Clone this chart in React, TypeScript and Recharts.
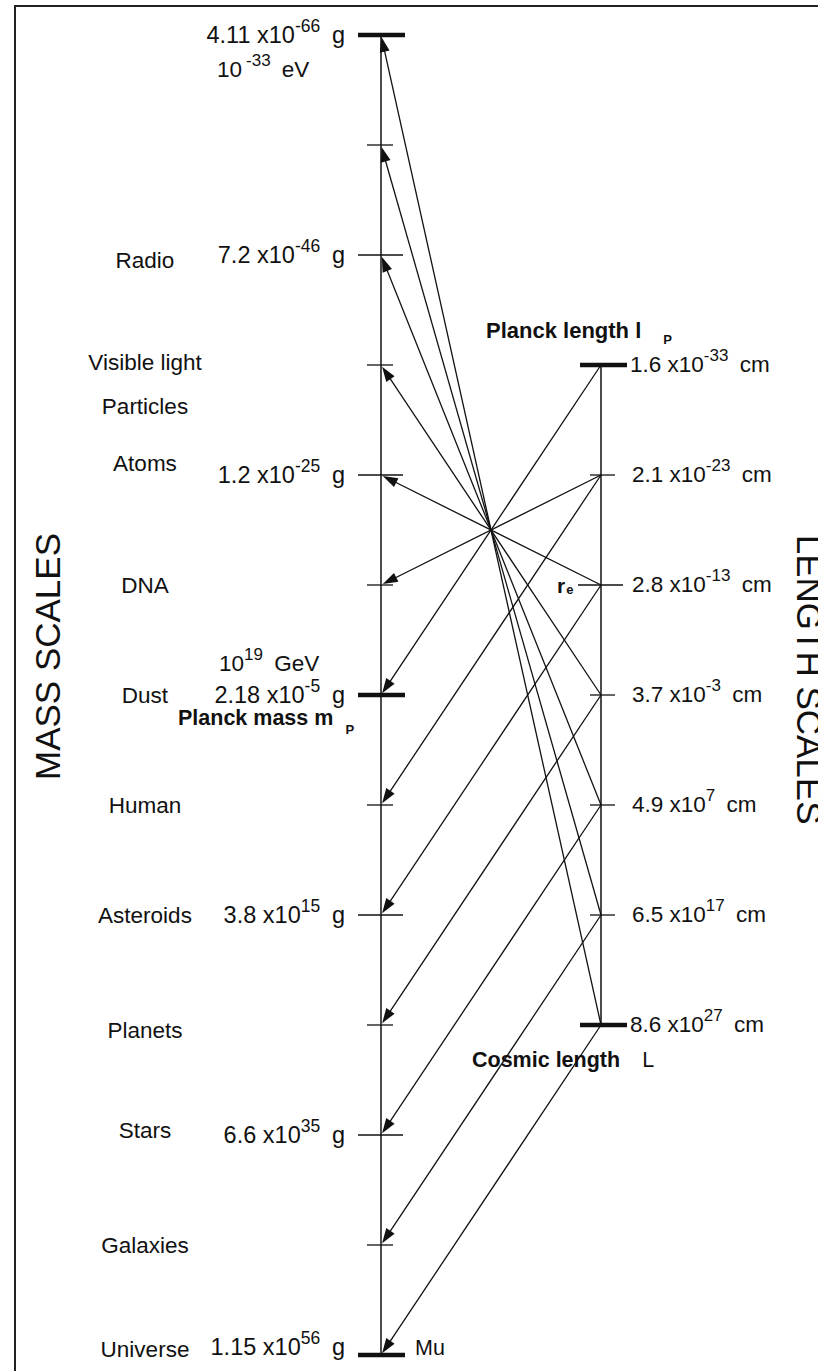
import React from 'react';
import { ScatterChart, Scatter, XAxis, YAxis, ReferenceLine } from 'recharts';

// Mass scale: 13 rows, from the lightest (top) to the heaviest (bottom)
const massMantissa = ['4.11', '', '7.2', '', '1.2', '', '2.18', '', '3.8', '', '6.6', '', '1.15'];
const massExponent = ['-66', '', '-46', '', '-25', '', '-5', '', '15', '', '35', '', '56'];
const massMajorRows = [0, 6, 12];

// Objects written next to the mass scale (row on the mass scale)
const massObjects = ['Radio', 'Visible light', 'Particles', 'Atoms', 'DNA', 'Dust', 'Human', 'Asteroids', 'Planets', 'Stars', 'Galaxies', 'Universe'];
const massObjectRows = [2.05, 2.97, 3.37, 3.89, 5, 6, 7, 8, 9.05, 9.96, 11, 11.95];

// Length scale: 7 rows, Planck length to cosmic length
const lengthRows = [3, 4, 5, 6, 7, 8, 9];
const lengthMantissa = ['1.6', '2.1', '2.8', '3.7', '4.9', '6.5', '8.6'];
const lengthExponent = ['-33', '-23', '-13', '-3', '7', '17', '27'];
const lengthMajorRows = [3, 9];

// arrows: [length row, mass row]
const links = [
  [9, 0], [8, 1], [7, 2], [6, 3], [5, 4], [4, 5], [3, 6],
  [4, 7], [5, 8], [6, 9], [7, 10], [8, 11], [9, 12],
];

const W = 818;
const H = 1371;
const MASS_PX = 381;
const LENGTH_PX = 601;
const TOP_PX = 35;
const ROW_PX = 110;
const UNIT = LENGTH_PX - MASS_PX;
const X_DOMAIN = [-MASS_PX / UNIT, (W - MASS_PX) / UNIT];
const Y_DOMAIN = [-TOP_PX / ROW_PX, (H - TOP_PX) / ROW_PX];
const MASS_X = 0;
const LENGTH_X = 1;
const OBJECT_X = (145 - MASS_PX) / UNIT;

const INK = '#111';
const FONT = '"Liberation Sans", Arial, Helvetica, sans-serif';
const FS = 22.5;
const SUP = 17;

const massData = massMantissa.map((m, i) => ({
  x: MASS_X, y: i, row: i, mantissa: m, exponent: massExponent[i], major: massMajorRows.includes(i),
}));
const lengthData = lengthRows.map((r, i) => ({
  x: LENGTH_X, y: r, row: r, mantissa: lengthMantissa[i], exponent: lengthExponent[i], major: lengthMajorRows.includes(r),
}));
const objectData = massObjects.map((name, i) => ({ x: OBJECT_X, y: massObjectRows[i], name }));
const titleData = [
  { x: MASS_X, y: 5.65, text: 'MASS SCALES', side: 'left' },
  { x: LENGTH_X, y: 5.86, text: 'LENGTH SCALES', side: 'right' },
];

const txt = { fontFamily: FONT, fill: INK };

const MassTick = (props: any) => {
  const { cx, cy, payload } = props;
  const { row, mantissa, exponent, major } = payload;
  const labelled = mantissa !== '';
  const [l, r, sw] = major ? [23, 24, 4.5] : labelled ? [23, 22, 1.3] : [14, 12, 1.3];
  const base = row === 12 ? cy : cy + 8;
  return (
    <g>
      <line x1={cx - l} x2={cx + r} y1={cy} y2={cy} stroke={INK} strokeWidth={sw} />
      {labelled && (
        <text x={cx - 36} y={base} textAnchor="end" fontSize={23.5} {...txt}>
          {mantissa + ' x10'}
          <tspan dy={-11} fontSize={17.5}>{exponent}</tspan>
          <tspan dy={11}>{'\u2002g'}</tspan>
        </text>
      )}
      {row === 0 && (
        <text x={cx - 164} y={cy + 42} fontSize={FS} {...txt}>
          {'10'}
          <tspan dx={4} dy={-11} fontSize={SUP}>-33</tspan>
          <tspan dy={11}>{'\u2002eV'}</tspan>
        </text>
      )}
      {row === 6 && (
        <>
          <text x={cx - 162} y={cy - 24} fontSize={FS} {...txt}>
            {'10'}
            <tspan dy={-11} fontSize={SUP}>19</tspan>
            <tspan dy={11}>{'\u2002GeV'}</tspan>
          </text>
          <text x={cx - 203} y={cy + 30} fontSize={FS - 1} fontWeight="bold" {...txt}>
            Planck mass m
            <tspan dx={12} dy={9} fontSize={13}>P</tspan>
          </text>
        </>
      )}
      {row === 12 && (
        <text x={cx + 34} y={cy} fontSize={FS - 1} {...txt}>Mu</text>
      )}
    </g>
  );
};

const LengthTick = (props: any) => {
  const { cx, cy, payload } = props;
  const { row, mantissa, exponent, major } = payload;
  const [l, r, sw] = major ? [21, 26, 4.5] : row === 5 ? [23, 22, 1.3] : [11, 14, 1.3];
  return (
    <g>
      <line x1={cx - l} x2={cx + r} y1={cy} y2={cy} stroke={INK} strokeWidth={sw} />
      <text x={cx + (major ? 29 : 31)} y={cy + 7} fontSize={FS} {...txt}>
        {mantissa + ' x10'}
        <tspan dy={-11} fontSize={SUP}>{exponent}</tspan>
        <tspan dy={11}>{'\u2002cm'}</tspan>
      </text>
      {row === 3 && (
        <text x={cx - 115} y={cy - 27} fontSize={FS - 0.5} fontWeight="bold" {...txt}>
          Planck length l
          <tspan dx={22} dy={6} fontSize={13}>P</tspan>
        </text>
      )}
      {row === 5 && (
        <text x={cx - 44} y={cy + 8} fontSize={21} fontWeight="bold" {...txt}>
          r<tspan dx={1} dy={1} fontSize={13}>e</tspan>
        </text>
      )}
      {row === 9 && (
        <text x={cx - 129} y={cy + 42} fontSize={FS - 1} {...txt}>
          <tspan fontWeight="bold">Cosmic length</tspan>
          <tspan dx={22}>L</tspan>
        </text>
      )}
    </g>
  );
};

const ObjectLabel = (props: any) => {
  const { cx, cy, payload } = props;
  return (
    <text x={cx} y={cy} dy="0.35em" textAnchor="middle" fontSize={FS} {...txt}>
      {payload.name}
    </text>
  );
};

const Title = (props: any) => {
  const { cx, cy, payload } = props;
  const left = payload.side === 'left';
  const x = left ? cx - 321 : cx + 196;
  return (
    <text
      x={x}
      y={cy}
      textAnchor="middle"
      fontSize={35}
      transform={`rotate(${left ? -90 : 90} ${x} ${cy})`}
      {...txt}
    >
      {payload.text}
    </text>
  );
};

const Arrow = (props: any) => {
  const { x1, y1, x2, y2 } = props;
  const a = Math.atan2(y2 - y1, x2 - x1);
  const ux = Math.cos(a);
  const uy = Math.sin(a);
  const len = 15;
  const half = 5;
  const tx = x2 - ux * 2;
  const ty = y2 - uy * 2;
  const bx = tx - ux * len;
  const by = ty - uy * len;
  const pts = `${tx},${ty} ${bx - uy * half},${by + ux * half} ${bx + uy * half},${by - ux * half}`;
  return (
    <g>
      <line x1={x1} y1={y1} x2={bx + ux * 3} y2={by + uy * 3} stroke={INK} strokeWidth={1.3} />
      <polygon points={pts} fill={INK} />
    </g>
  );
};

export default function App() {
  return (
    <div style={{ position: 'absolute', left: 0, top: 0, width: W, height: H, overflow: 'hidden', background: '#fff' }}>
      <div
        style={{
          position: 'absolute', left: 14, top: 5, width: W, height: H,
          borderTop: '2px solid #222', borderLeft: '2px solid #222',
        }}
      />
      <div style={{ position: 'absolute', left: 0, top: 0 }}>
        <ScatterChart width={W} height={H} margin={{ top: 0, right: 0, bottom: 0, left: 0 }}>
          <XAxis type="number" dataKey="x" domain={X_DOMAIN} allowDataOverflow hide />
          <YAxis type="number" dataKey="y" domain={Y_DOMAIN} allowDataOverflow reversed hide />

          <ReferenceLine segment={[{ x: MASS_X, y: 0 }, { x: MASS_X, y: massMantissa.length - 1 }]} stroke={INK} strokeWidth={1.5} />
          <ReferenceLine
            segment={[{ x: LENGTH_X, y: lengthRows[0] }, { x: LENGTH_X, y: lengthRows[lengthRows.length - 1] }]}
            stroke={INK}
            strokeWidth={1.5}
          />
          {links.map(([lr, mr], i) => (
            <ReferenceLine
              key={i}
              segment={[{ x: LENGTH_X, y: lr }, { x: MASS_X, y: mr }]}
              shape={Arrow}
            />
          ))}

          <Scatter data={massData} shape={MassTick} isAnimationActive={false} />
          <Scatter data={lengthData} shape={LengthTick} isAnimationActive={false} />
          <Scatter data={objectData} shape={ObjectLabel} isAnimationActive={false} />
          <Scatter data={titleData} shape={Title} isAnimationActive={false} />
        </ScatterChart>
      </div>
    </div>
  );
}
